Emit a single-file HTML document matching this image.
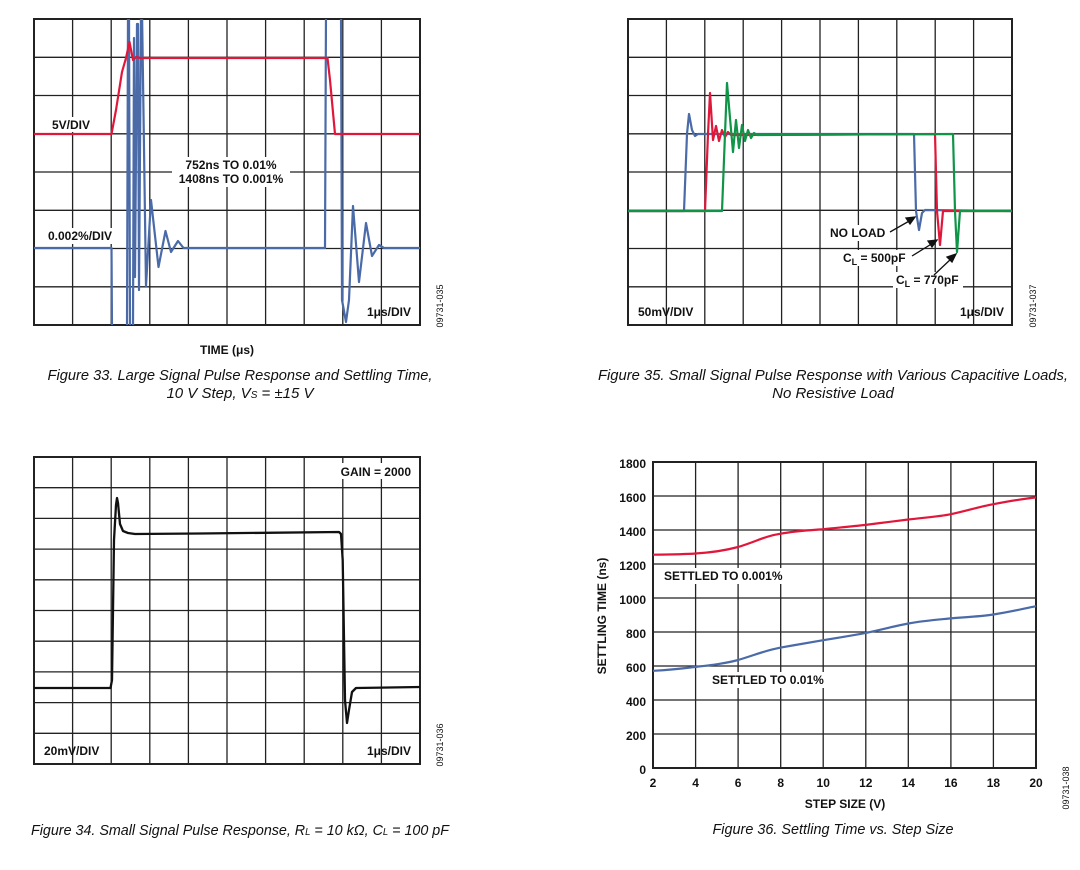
<!DOCTYPE html>
<html><head><meta charset="utf-8"><style>
html,body{margin:0;padding:0;background:#fff;}
svg{display:block;}
.t{font-family:"Liberation Sans",sans-serif;font-weight:bold;font-size:12px;fill:#111;}
.c{font-family:"Liberation Sans",sans-serif;font-style:italic;font-size:15px;fill:#111;}
.id{font-family:"Liberation Sans",sans-serif;font-size:9px;fill:#111;}
.g{stroke:#222;stroke-width:1.3;fill:none;}
</style></head><body>
<svg width="1080" height="870" viewBox="0 0 1080 870" xmlns="http://www.w3.org/2000/svg">
<defs>
<clipPath id="c1"><rect x="34" y="19" width="386" height="306"/></clipPath>
<clipPath id="c2"><rect x="628" y="19" width="384" height="306"/></clipPath>
<clipPath id="c3"><rect x="34" y="457" width="386" height="307"/></clipPath>
</defs>

<!-- Panel 1 grid -->
<g class="g">
<path d="M72.6,19V325M111.2,19V325M149.8,19V325M188.4,19V325M227,19V325M265.6,19V325M304.2,19V325M342.8,19V325M381.4,19V325
M34,57.3H420M34,95.5H420M34,133.8H420M34,172H420M34,210.3H420M34,248.5H420M34,286.8H420"/>
<rect x="34" y="19" width="386" height="306" stroke-width="2"/>
</g>
<g clip-path="url(#c1)" fill="none" stroke-linejoin="round">
<path stroke="#4a6aa8" stroke-width="2.2" d="M34,248 L111.5,248 L112,330 L127,330 L128,10 L129,10 L130,330 L133,330 L134,38 L135,277 L137,24 L138,24 L139,290 L141,10 L142,10 L146,286 L151,200 L158.5,267 L165.5,231 L171,252 L178,241 L183.5,248 L325,248 L326,10 L341,10 L342,300 L346,322 L349,300 L353,206 L359,282 L366,223 L372,256 L379,245 L384,248 L420,248"/>
<path stroke="#e0173a" stroke-width="2.2" d="M34,134 L111.5,134 L116,110 L122,72 L126,58 L129.5,42 L133,60 L136,57 L140,58 L327.5,58 L330,80 L335,134 L420,134"/>
</g>
<rect x="48" y="117" width="46" height="15" fill="#fff"/>
<text class="t" x="52" y="129">5V/DIV</text>
<rect x="172" y="157" width="118" height="30" fill="#fff"/>
<text class="t" x="231" y="169" text-anchor="middle">752ns TO 0.01%</text>
<text class="t" x="231" y="183" text-anchor="middle">1408ns TO 0.001%</text>
<rect x="45" y="228" width="74" height="16" fill="#fff"/>
<text class="t" x="48" y="240">0.002%/DIV</text>
<text class="t" x="411" y="316" text-anchor="end">1μs/DIV</text>
<text class="id" transform="translate(443,306) rotate(-90)" text-anchor="middle">09731-035</text>
<text class="t" x="227" y="354" text-anchor="middle">TIME (μs)</text>
<text class="c" x="240" y="380" text-anchor="middle" textLength="385" lengthAdjust="spacingAndGlyphs">Figure 33. Large Signal Pulse Response and Settling Time,</text>
<text class="c" x="240" y="398" text-anchor="middle">10 V Step, V<tspan font-size="10">S</tspan> = ±15 V</text>

<!-- Panel 2 grid -->
<g class="g">
<path d="M666.4,19V325M704.8,19V325M743.2,19V325M781.6,19V325M820,19V325M858.4,19V325M896.8,19V325M935.2,19V325M973.6,19V325
M628,57.3H1012M628,95.5H1012M628,133.8H1012M628,172H1012M628,210.3H1012M628,248.5H1012M628,286.8H1012"/>
<rect x="628" y="19" width="384" height="306" stroke-width="2"/>
</g>
<g clip-path="url(#c2)" fill="none" stroke-linejoin="round" stroke-width="2.2">
<path stroke="#4a6aa8" d="M628,211 L684,211 L687,134 L689,114 L692,130 L695,136 L698,134 L914,134 L916,211 L919,230 L922,213 L925,210 L1012,211"/>
<path stroke="#e0173a" d="M628,211 L705,211 L708,134 L710,93 L713,140 L716,126 L719,141 L722,130 L725,137 L728,132 L731,135 L935,134 L937,211 L940,245 L943,211 L1012,211"/>
<path stroke="#109447" d="M628,211 L722,211 L725,134 L727,83 L730,118 L733,152 L736,120 L739,148 L742,125 L745,141 L748,130 L751,138 L754,133 L757,135 L953,134 L955,211 L957,252 L960,211 L1012,211"/>
</g>
<rect x="827" y="225" width="62" height="16" fill="#fff"/>
<text class="t" x="830" y="237">NO LOAD</text>
<rect x="840" y="250" width="70" height="16" fill="#fff"/>
<text class="t" x="843" y="262">C<tspan font-size="9" dy="3">L</tspan><tspan dy="-3"> = 500pF</tspan></text>
<rect x="893" y="272" width="70" height="16" fill="#fff"/>
<text class="t" x="896" y="284">C<tspan font-size="9" dy="3">L</tspan><tspan dy="-3"> = 770pF</tspan></text>
<g stroke="#111" stroke-width="1.3" fill="#111">
<path d="M890,232 L911,220" fill="none"/><path d="M915,217 L906,218 L910,224Z"/>
<path d="M912,256 L933,243" fill="none"/><path d="M937,240 L928,241 L932,247Z"/>
<path d="M934,275 L952,258" fill="none"/><path d="M956,254 L947,257 L952,262Z"/>
</g>
<text class="t" x="638" y="316">50mV/DIV</text>
<text class="t" x="1004" y="316" text-anchor="end">1μs/DIV</text>
<text class="id" transform="translate(1036,306) rotate(-90)" text-anchor="middle">09731-037</text>
<text class="c" x="833" y="380" text-anchor="middle" textLength="470" lengthAdjust="spacingAndGlyphs">Figure 35. Small Signal Pulse Response with Various Capacitive Loads,</text>
<text class="c" x="833" y="398" text-anchor="middle">No Resistive Load</text>

<!-- Panel 3 -->
<g class="g">
<path d="M72.6,457V764M111.2,457V764M149.8,457V764M188.4,457V764M227,457V764M265.6,457V764M304.2,457V764M342.8,457V764M381.4,457V764
M34,487.7H420M34,518.4H420M34,549.1H420M34,579.8H420M34,610.5H420M34,641.2H420M34,671.9H420M34,702.6H420M34,733.3H420"/>
<rect x="34" y="457" width="386" height="307" stroke-width="2"/>
</g>
<g clip-path="url(#c3)" fill="none" stroke-linejoin="round">
<path stroke="#111" stroke-width="2.3" d="M34,688 L110.5,688 L112,680 L114,540 L116,505 L117,498 L118,503 L120,524 L123,531 L128,533 L135,534 L200,533.5 L339,532 L341,534 L342.7,560 L345,700 L347,723 L349,710 L352,692 L356,688 L420,687"/>
</g>
<rect x="326" y="463" width="88" height="16" fill="#fff"/>
<text class="t" x="411" y="476" text-anchor="end">GAIN = 2000</text>
<text class="t" x="44" y="755">20mV/DIV</text>
<text class="t" x="411" y="755" text-anchor="end">1μs/DIV</text>
<text class="id" transform="translate(443,745) rotate(-90)" text-anchor="middle">09731-036</text>
<text class="c" x="240" y="835" text-anchor="middle" textLength="418" lengthAdjust="spacingAndGlyphs">Figure 34. Small Signal Pulse Response, R<tspan font-size="10">L</tspan> = 10 kΩ, C<tspan font-size="10">L</tspan> = 100 pF</text>

<!-- Panel 4 -->
<g class="g">
<path d="M695.6,462V768M738.1,462V768M780.7,462V768M823.2,462V768M865.8,462V768M908.3,462V768M950.9,462V768M993.4,462V768
M653,496H1036M653,530H1036M653,564H1036M653,598H1036M653,632H1036M653,666H1036M653,700H1036M653,734H1036"/>
<rect x="653" y="462" width="383" height="306" stroke-width="2"/>
</g>
<g fill="none" stroke-width="2.2" stroke-linejoin="round">
<path stroke="#e0173a" d="M653,554.7 C670,554.5 685,554.3 695.6,553.5 C712,552.5 725,550.5 738.1,547 C755,542 765,536 780.7,533.7 C795,531 810,530.2 823.2,529.2 C840,527.5 852,526.5 865.8,524.9 C880,523 895,521.2 908.3,519.5 C925,517.5 940,516.5 950.9,514.2 C968,510.5 980,506.5 993.4,504.2 C1010,501 1022,499 1036,497.4"/>
<path stroke="#4a6aa8" d="M653,670.8 C670,670 683,668.5 695.6,666.9 C712,665 725,663.5 738.1,660 C755,655 765,650.5 780.7,647.6 C795,645 810,642.5 823.2,640.2 C840,637.5 852,635.5 865.8,632.9 C880,630 895,626 908.3,623.5 C925,620.5 940,619.5 950.9,618.4 C968,617 980,616.5 993.4,614.5 C1010,612 1022,609 1036,606.2"/>
</g>
<rect x="661" y="568" width="131" height="16" fill="#fff"/>
<text class="t" x="664" y="580">SETTLED TO 0.001%</text>
<rect x="709" y="672" width="124" height="16" fill="#fff"/>
<text class="t" x="712" y="684">SETTLED TO 0.01%</text>
<g class="t" text-anchor="end">
<text x="646" y="468">1800</text><text x="646" y="502">1600</text><text x="646" y="536">1400</text>
<text x="646" y="570">1200</text><text x="646" y="604">1000</text><text x="646" y="638">800</text>
<text x="646" y="672">600</text><text x="646" y="706">400</text><text x="646" y="740">200</text>
<text x="646" y="774">0</text>
</g>
<g class="t" text-anchor="middle">
<text x="653" y="787">2</text><text x="695.6" y="787">4</text><text x="738.1" y="787">6</text>
<text x="780.7" y="787">8</text><text x="823.2" y="787">10</text><text x="865.8" y="787">12</text>
<text x="908.3" y="787">14</text><text x="950.9" y="787">16</text><text x="993.4" y="787">18</text>
<text x="1036" y="787">20</text>
<text x="845" y="808">STEP SIZE (V)</text>
<text transform="translate(606,616) rotate(-90)">SETTLING TIME (ns)</text>
</g>
<text class="id" transform="translate(1069,788) rotate(-90)" text-anchor="middle">09731-038</text>
<text class="c" x="833" y="834" text-anchor="middle" textLength="241" lengthAdjust="spacingAndGlyphs">Figure 36. Settling Time vs. Step Size</text>
</svg>
</body></html>
